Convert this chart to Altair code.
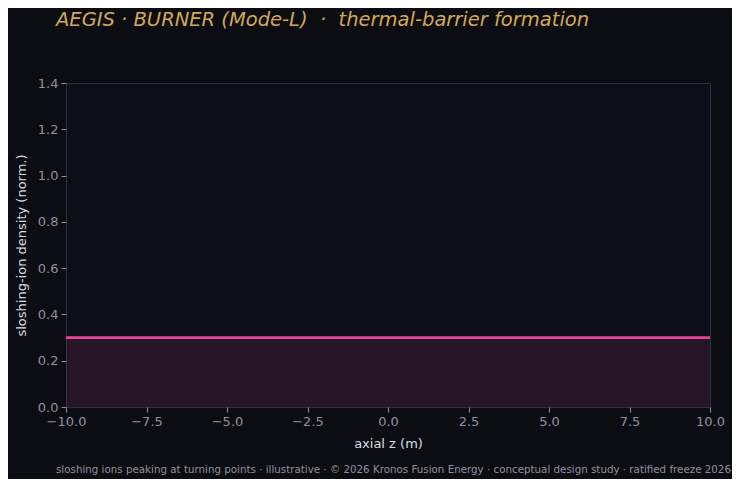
import altair as alt
import pandas as pd

# data
z_m = [-10.0, -7.5, -5.0, -2.5, 0.0, 2.5, 5.0, 7.5, 10.0]
density = [0.30, 0.30, 0.30, 0.30, 0.30, 0.30, 0.30, 0.30, 0.30]
x_ticks = [-10.0, -7.5, -5.0, -2.5, 0.0, 2.5, 5.0, 7.5, 10.0]
y_ticks = [0.0, 0.2, 0.4, 0.6, 0.8, 1.0, 1.2, 1.4]

NB = "\u00a0"
title_text = "AEGIS · BURNER (Mode-L)" + NB * 2 + "·" + NB * 2 + "thermal-barrier formation"
footer_text = ("sloshing ions peaking at turning points · illustrative · © 2026 Kronos Fusion Energy"
               " · conceptual design study · ratified freeze 2026-04-17")

df = pd.DataFrame({"z": z_m, "n": density})

FONT = "DejaVu Sans"
BG = "#0b0d12"
PLOT_BG = "#0c0f17"
PINK = "#e8459a"

x_enc = alt.X("z:Q", scale=alt.Scale(domain=[-10, 10], nice=False, zero=False),
              axis=alt.Axis(values=x_ticks, format=".1f", title="axial z (m)",
                            grid=False, domain=False, tickColor="#8b93a0",
                            tickSize=5, labelPadding=3, titlePadding=9,
                            labelFlush=False))
y_enc = alt.Y("n:Q", scale=alt.Scale(domain=[0, 1.4], nice=False),
              axis=alt.Axis(values=y_ticks, format=".1f",
                            title="sloshing-ion density (norm.)",
                            grid=False, domain=False, tickColor="#8b93a0",
                            tickSize=5, labelPadding=3, titlePadding=9,
                            labelFlush=False))

area = alt.Chart(df).mark_area(color=PINK, opacity=0.12).encode(x=x_enc, y=y_enc)
line = alt.Chart(df).mark_line(color=PINK, strokeWidth=2.8).encode(x="z:Q", y="n:Q")

footer = alt.Chart(pd.DataFrame({"t": [footer_text]})).mark_text(
    align="left", baseline="middle", font=FONT, fontSize=10.3, color="#8b93a0"
).encode(x=alt.value(-10), y=alt.value(387), text="t:N")

chart = alt.layer(area, line, footer).properties(
    width=644, height=324,
    background=BG,
    padding={"left": 58, "top": 75, "right": 22, "bottom": 72},
    autosize=alt.AutoSizeParams(type="none"),
    title=alt.TitleParams(title_text, anchor="start", frame="group", dx=-10,
                          offset=47, font=FONT, fontSize=19.5, fontStyle="italic",
                          fontWeight="normal", color="#d4a955"),
).configure_view(
    fill=PLOT_BG, stroke="#2c313c", strokeWidth=1
).configure_axis(
    labelFont=FONT, titleFont=FONT, labelFontSize=13, titleFontSize=13,
    labelColor="#8b93a0", titleColor="#d8dde6", titleFontWeight="normal"
)

chart.save("out.html", embed_options={"renderer": "svg", "actions": False})
